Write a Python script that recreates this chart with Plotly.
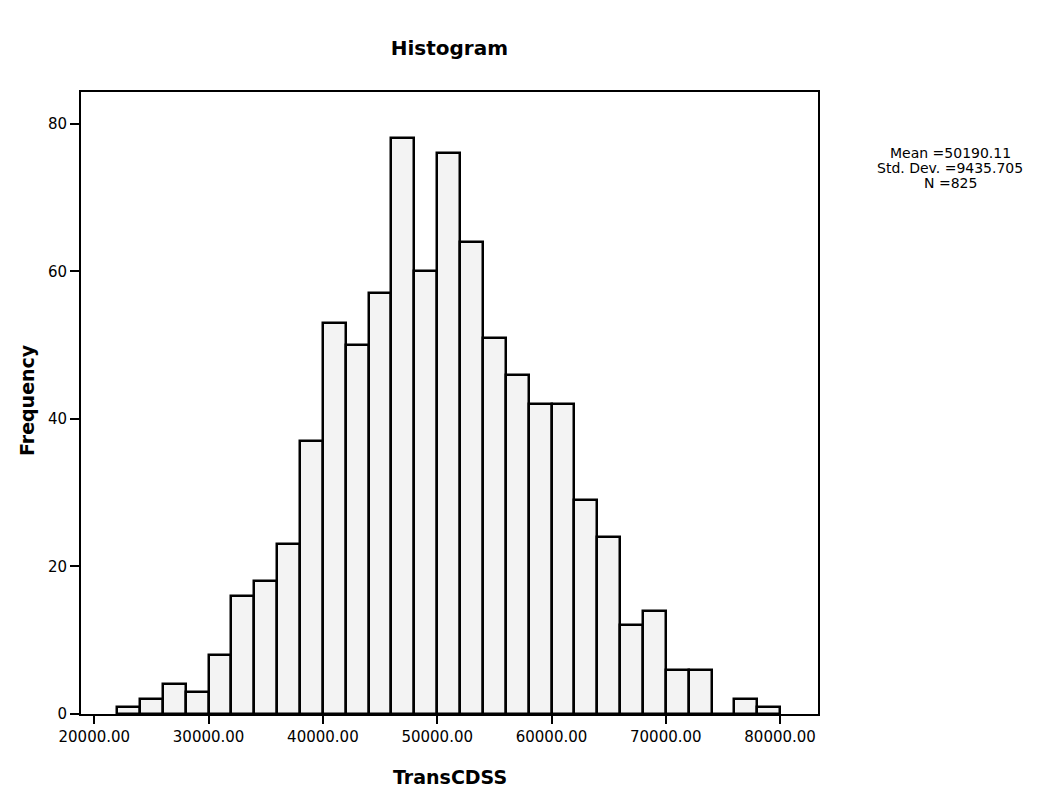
import plotly.graph_objects as go

# Histogram bins (lower edges, width 2000) and counts of TransCDSS
bin_lower = [22000, 24000, 26000, 28000, 30000, 32000, 34000, 36000, 38000, 40000,
             42000, 44000, 46000, 48000, 50000, 52000, 54000, 56000, 58000, 60000,
             62000, 64000, 66000, 68000, 70000, 72000, 74000, 76000, 78000]
bin_width = 2000
counts = [1, 2, 4, 3, 8, 16, 18, 23, 37, 53,
          50, 57, 78, 60, 76, 64, 51, 46, 42, 42,
          29, 24, 12, 14, 6, 6, 0, 2, 1]

x_ticks = [20000, 30000, 40000, 50000, 60000, 70000, 80000]
x_tick_text = ["20000.00", "30000.00", "40000.00", "50000.00", "60000.00", "70000.00", "80000.00"]
y_ticks = [0, 20, 40, 60, 80]

stats_lines = ["Mean =50190.11", "Std. Dev. =9435.705", "N =825"]

FONT = "DejaVu Sans"

centers = [b + bin_width / 2 for b in bin_lower]

fig = go.Figure(go.Bar(
    x=centers,
    y=counts,
    width=[bin_width] * len(counts),
    marker=dict(color="#f3f3f3", line=dict(color="black", width=2.5)),
    hoverinfo="x+y",
))

fig.update_layout(
    width=1045, height=798,
    margin=dict(l=81, r=227, t=92, b=84),
    paper_bgcolor="white", plot_bgcolor="white",
    showlegend=False,
    bargap=0,
    title=dict(text="<b>Histogram</b>", x=0.43, xanchor="center",
               y=1 - 48 / 798, yanchor="middle", yref="container",
               font=dict(family=FONT, size=20, color="black")),
    font=dict(family=FONT, color="black"),
)

fig.update_xaxes(
    range=[18836, 83316],
    tickvals=x_ticks, ticktext=x_tick_text,
    ticks="outside", ticklen=8, tickwidth=2, tickcolor="black",
    tickfont=dict(family=FONT, size=15, color="black"),
    showline=True, linecolor="black", linewidth=2, mirror=True,
    showgrid=False, zeroline=False,
)
fig.update_yaxes(
    range=[0, 84.3],
    tickvals=y_ticks,
    ticks="outside", ticklen=9, tickwidth=2, tickcolor="black",
    tickfont=dict(family=FONT, size=15, color="black"),
    showline=True, linecolor="black", linewidth=2, mirror=True,
    showgrid=False, zeroline=False,
)

# Axis titles
fig.add_annotation(text="<b>TransCDSS</b>", xref="paper", yref="paper",
                   x=0.5, y=(714 - 777) / 622, xanchor="center", yanchor="middle",
                   showarrow=False, font=dict(family=FONT, size=19, color="black"))
fig.add_annotation(text="<b>Frequency</b>", xref="paper", yref="paper",
                   x=(27 - 81) / 737, y=(714 - 400) / 622, xanchor="center", yanchor="middle",
                   textangle=-90, showarrow=False,
                   font=dict(family=FONT, size=19, color="black"))

# Summary statistics block on the right
for i, line in enumerate(stats_lines):
    fig.add_annotation(text=line, xref="paper", yref="paper",
                       x=(950 - 81) / 737, y=(714 - (153 + 15 * i)) / 622,
                       xanchor="center", yanchor="middle", showarrow=False,
                       font=dict(family=FONT, size=14, color="black"))

fig.write_html("out.html")
